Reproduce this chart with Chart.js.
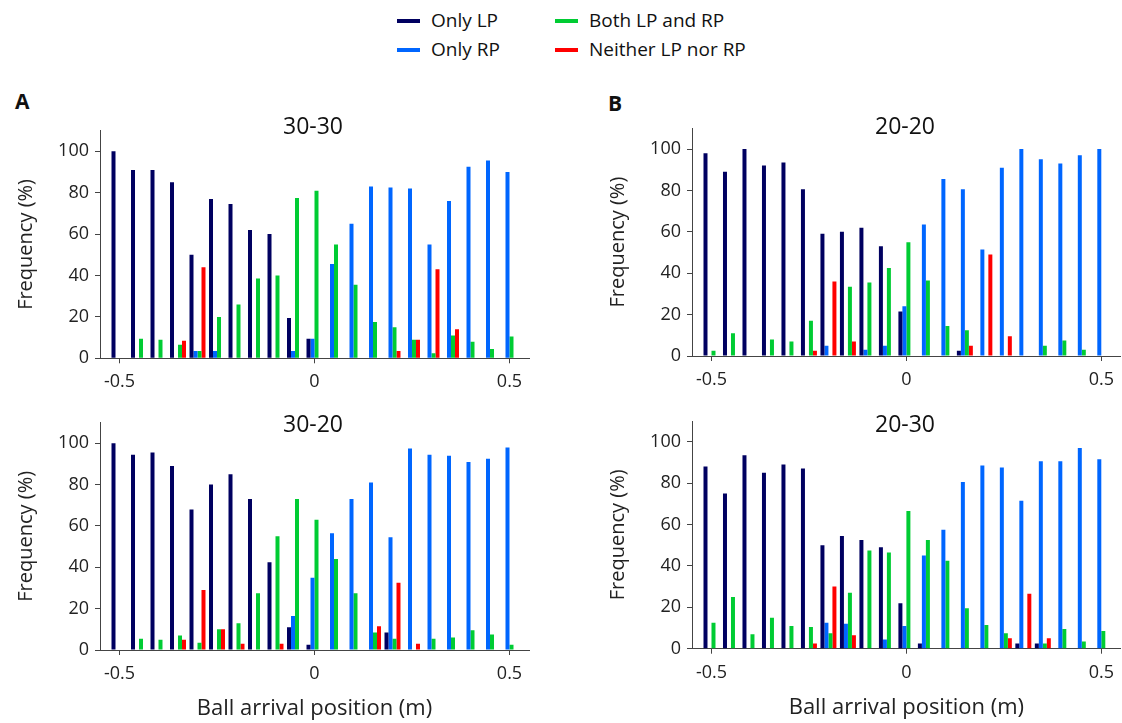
<!DOCTYPE html>
<html>
<head>
<meta charset="utf-8">
<script src="https://cdn.jsdelivr.net/npm/chart.js@4"></script>
<style>
  body { margin:0; width:1122px; height:723px; background:#fff; position:relative; overflow:hidden; font-family:"Open Sans", sans-serif; color:#111; }
  canvas { position:absolute; }
  .lbl { position:absolute; white-space:nowrap; line-height:1; }
  .title { font-size:23px; transform:translate(-50%,-50%); }
  .letter { font-size:21px; font-weight:bold; }
  .leg { font-size:19px; }
  .sw { position:absolute; width:23px; height:4px; }
</style>
</head>
<body>
<!-- legend -->
<div class="sw" style="left:397px;top:19px;background:#000060"></div>
<div class="lbl leg" style="left:431px;top:11px">Only LP</div>
<div class="sw" style="left:397px;top:48px;background:#0066ff"></div>
<div class="lbl leg" style="left:431px;top:40px">Only RP</div>
<div class="sw" style="left:555px;top:19px;background:#00cc33"></div>
<div class="lbl leg" style="left:589px;top:11px">Both LP and RP</div>
<div class="sw" style="left:555px;top:48px;background:#ff0000"></div>
<div class="lbl leg" style="left:589px;top:40px">Neither LP nor RP</div>

<div class="lbl letter" style="left:15px;top:91px">A</div>
<div class="lbl letter" style="left:608px;top:93px">B</div>

<canvas id="c3030" width="545" height="280" style="left:0;top:120px"></canvas>
<canvas id="c2020" width="530" height="280" style="left:592px;top:120px"></canvas>
<canvas id="c3020" width="545" height="313" style="left:0;top:410px"></canvas>
<canvas id="c2030" width="530" height="313" style="left:592px;top:410px"></canvas>

<div class="lbl title" style="left:313px;top:125px">30-30</div>
<div class="lbl title" style="left:905px;top:125px">20-20</div>
<div class="lbl title" style="left:313px;top:423px">30-20</div>
<div class="lbl title" style="left:905px;top:423px">20-30</div>

<script>
// ball arrival positions (m)
const positions = [-0.5, -0.45, -0.4, -0.35, -0.3, -0.25, -0.2, -0.15, -0.1, -0.05, 0, 0.05, 0.1, 0.15, 0.2, 0.25, 0.3, 0.35, 0.4, 0.45, 0.5]
const xTicks = [-0.5, 0, 0.5]
const yTicks = [0, 20, 40, 60, 80, 100]
const seriesNames = ['Only LP', 'Only RP', 'Both LP and RP', 'Neither LP nor RP']
const seriesColors = ['#000060', '#0066ff', '#00cc33', '#ff0000']

// 30-30
const lp3030 = [100, 91, 91, 85, 50, 77, 74.5, 62, 60, 19.5, 9.5, 0, 0, 0, 0, 0, 0, 0, 0, 0, 0]
const rp3030 = [0, 0, 0, 0, 3.5, 3.5, 0, 0, 0, 3.5, 9.5, 45.5, 65, 83, 82.5, 82, 55, 76, 92.5, 95.5, 90]
const both3030 = [0, 9.5, 9, 6.5, 3.5, 20, 26, 38.5, 40, 77.5, 81, 55, 35.5, 17.5, 15, 9, 2.5, 11, 8, 4.5, 10.5]
const neither3030 = [0, 0, 0, 8.5, 44, 0, 0, 0, 0, 0, 0, 0, 0, 0, 3.5, 9, 43, 14, 0, 0, 0]

// 20-20
const lp2020 = [98, 89, 100, 92, 93.5, 80.5, 59, 60, 62, 53, 21.5, 0, 0, 2.5, 0, 0, 0, 0, 0, 0, 0]
const rp2020 = [0, 0, 0, 0, 0, 0, 5, 0, 3, 5, 24, 63.5, 85.5, 80.5, 51.5, 91, 100, 95, 93, 97, 100]
const both2020 = [2.5, 11, 0, 8, 7, 17, 0, 33.5, 35.5, 42.5, 55, 36.5, 14.5, 12.5, 0, 0, 0, 5, 7.5, 3, 0]
const neither2020 = [0, 0, 0, 0, 0, 2.5, 36, 7, 0, 0, 0, 0, 0, 5, 49, 9.5, 0, 0, 0, 0, 0]

// 30-20
const lp3020 = [100, 94.5, 95.5, 89, 68, 80, 85, 73, 42.5, 11, 2.5, 0, 0, 0, 8.5, 0, 0, 0, 0, 0, 0]
const rp3020 = [0, 0, 0, 0, 0, 0, 0, 0, 0, 16.5, 35, 56.5, 73, 81, 54.5, 97.5, 94.5, 94, 91, 92.5, 98]
const both3020 = [0, 5.5, 5, 7, 3.5, 10, 13, 27.5, 55, 73, 63, 44, 27.5, 8.5, 5.5, 0, 5.5, 6, 9.5, 7.5, 2.5]
const neither3020 = [0, 0, 0, 5, 29, 10, 3, 0, 3, 0, 0, 0, 0, 11.5, 32.5, 3, 0, 0, 0, 0, 0]

// 20-30
const lp2030 = [88, 75, 93.5, 85, 89, 87, 50, 54.5, 52.5, 49, 22, 2.5, 0, 0, 0, 0, 2.5, 2.5, 0, 0, 0]
const rp2030 = [0, 0, 0, 0, 0, 0, 12.5, 12, 0, 4.5, 11, 45, 57.5, 80.5, 88.5, 87.5, 71.5, 90.5, 90.5, 97, 91.5]
const both2030 = [12.5, 25, 7, 15, 11, 10.5, 7.5, 27, 47.5, 46.5, 66.5, 52.5, 42.5, 19.5, 11.5, 7.5, 0, 2.5, 9.5, 3.5, 8.5]
const neither2030 = [0, 0, 0, 0, 0, 2.5, 30, 6.5, 0, 0, 0, 0, 0, 0, 0, 5, 26.5, 5, 0, 0, 0]

const axisColor = '#444'
const textColor = '#222'
const font = 'Open Sans'

function makePanel(id, groups, pad, xHeight, showXTitle) {
    const datasets = groups.map((vals, k) => ({
        label: seriesNames[k],
        data: positions.map((x, i) => ({ x: x, y: vals[i] })),
        backgroundColor: seriesColors[k],
        borderWidth: 0,
        categoryPercentage: 0.82,
        barPercentage: 1
    }))

    new Chart(document.getElementById(id), {
        type: 'bar',
        data: { datasets },
        options: {
            responsive: false,
            animation: false,
            devicePixelRatio: 1,
            layout: { padding: pad },
            plugins: { legend: { display: false }, tooltip: { enabled: false } },
            scales: {
                x: {
                    type: 'linear',
                    min: -0.55,
                    max: 0.55,
                    offset: false,
                    afterBuildTicks: s => { s.ticks = xTicks.map(v => ({ value: v })) },
                    afterFit: s => { s.height = xHeight },
                    grid: { drawOnChartArea: false, offset: false, tickLength: 5, tickColor: axisColor },
                    border: { color: axisColor },
                    ticks: { padding: 8, maxRotation: 0, color: textColor, font: { family: font, size: 18 }, callback: v => String(v) },
                    title: { display: showXTitle, text: 'Ball arrival position (m)', color: textColor, font: { family: font, size: 22 }, padding: { top: 0, bottom: 0 } }
                },
                y: {
                    min: 0,
                    max: 110,
                    afterBuildTicks: s => { s.ticks = yTicks.map(v => ({ value: v })) },
                    afterFit: s => { s.width = 100; s.paddingTop = 0; s.paddingBottom = 0 },
                    grid: { drawOnChartArea: false, tickLength: 5, tickColor: axisColor },
                    border: { color: axisColor },
                    ticks: { padding: 6, color: textColor, font: { family: font, size: 18 } },
                    title: { display: true, text: 'Frequency (%)', color: textColor, font: { family: font, size: 20 }, padding: { top: 14, bottom: 0 } }
                }
            }
        }
    })
}

makePanel('c3030', [lp3030, rp3030, both3030, neither3030], { top: 10.6, right: 16, bottom: 1.7, left: 0 }, 40, false)
makePanel('c2020', [lp2020, rp2020, both2020, neither2020], { top: 8.3, right: 1, bottom: 4, left: 0 }, 40, false)
makePanel('c3020', [lp3020, rp3020, both3020, neither3020], { top: 12.6, right: 16, bottom: 1, left: 0 }, 72, true)
makePanel('c2030', [lp2030, rp2030, both2030, neither2030], { top: 11, right: 1, bottom: 2.3, left: 0 }, 72, true)
</script>
</body>
</html>
